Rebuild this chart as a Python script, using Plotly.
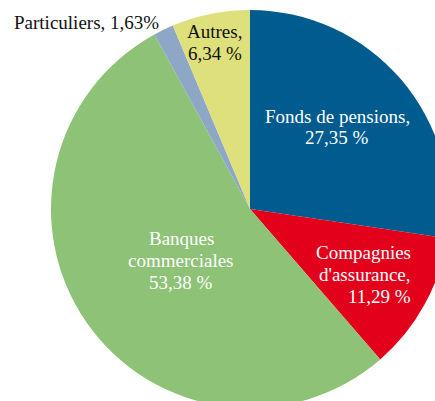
import plotly.graph_objects as go

# Répartition des détenteurs
labels = ["Fonds de pensions", "Compagnies d'assurance", "Banques commerciales", "Particuliers", "Autres"]
values = [27.35, 11.29, 53.38, 1.63, 6.34]
colors = ["#005b8f", "#e2001a", "#8dc277", "#8fa7c7", "#dee07b"]

# Lignes de texte de chaque étiquette ({v} = valeur formatée)
label_lines = [
    ["Fonds de pensions,", "{v} %"],
    ["Compagnies", "d'assurance,", "{v} %"],
    ["Banques", "commerciales", "{v} %"],
    ["Particuliers, {v}%"],
    ["Autres,", "{v} %"],
]

W, H = 460, 420
CX, CY, R = 250, 209, 199  # centre et rayon du camembert, en pixels

def fmt(v):
    return f"{v:.2f}".replace(".", ",")

fig = go.Figure(go.Pie(
    labels=labels,
    values=values,
    marker=dict(colors=colors, line=dict(width=0)),
    sort=False,
    direction="clockwise",
    rotation=0,
    textinfo="none",
    hoverinfo="label+percent",
    showlegend=False,
    domain=dict(x=[(CX - R) / W, (CX + R) / W],
                y=[(H - CY - R) / H, (H - CY + R) / H]),
))

# Position (x, y de la première ligne, alignement, couleur) des étiquettes
placements = [
    (337, 116, "center", "white"),
    (413, 252, "right", "white"),
    (181, 238, "center", "white"),
    (12, 22, "left", "#111111"),
    (244, 32, "right", "#111111"),
]
LINE = 22
for lines, v, (x, y, align, col) in zip(label_lines, values, placements):
    xanchor = {"center": "center", "right": "right", "left": "left"}[align]
    for i, line in enumerate(lines):
        fig.add_annotation(
            x=x / W, y=1 - (y + i * LINE) / H, xref="paper", yref="paper",
            text=line.format(v=fmt(v)), showarrow=False,
            xanchor=xanchor, yanchor="middle",
            font=dict(family="Liberation Serif", size=19, color=col),
        )

fig.update_layout(
    width=W, height=H,
    margin=dict(l=0, r=0, t=0, b=0),
    paper_bgcolor="white", plot_bgcolor="white",
)

fig.write_html(
    "out.html",
    post_script="document.documentElement.style.overflow='hidden';"
                "document.body.style.overflow='hidden';document.body.style.margin='0';",
)
